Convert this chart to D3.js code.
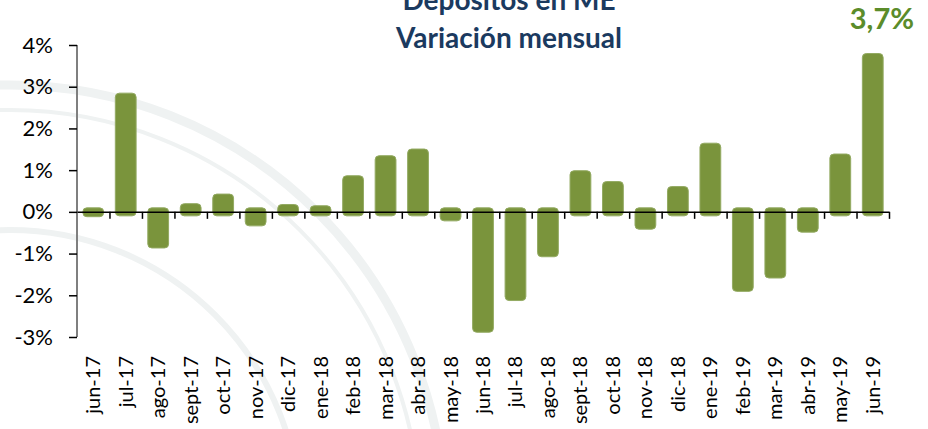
<!DOCTYPE html>
<html lang="es">
<head>
<meta charset="UTF-8">
<title>Depósitos en ME</title>
<style>
  body { margin: 0; background: #fff; }
  svg { display: block; font-family: Lato, "Open Sans", sans-serif; }
</style>
</head>
<body>
<div class="graph"></div>
<script src="https://d3js.org/d3.v7.min.js"></script>
<script>
    var w = 928, h = 429;

    var months = ["jun-17", "jul-17", "ago-17", "sept-17", "oct-17", "nov-17", "dic-17",
                  "ene-18", "feb-18", "mar-18", "abr-18", "may-18", "jun-18", "jul-18",
                  "ago-18", "sept-18", "oct-18", "nov-18", "dic-18", "ene-19", "feb-19",
                  "mar-19", "abr-19", "may-19", "jun-19"];
    var variacion = [-0.02, 2.75, -0.77, 0.10, 0.33, -0.24, 0.08,
                     0.05, 0.77, 1.25, 1.41, -0.12, -2.79, -2.03,
                     -0.98, 0.89, 0.63, -0.32, 0.51, 1.55, -1.81,
                     -1.49, -0.39, 1.29, 3.70];
    var yTicks = [4, 3, 2, 1, 0, -1, -2, -3];
    var lastLabel = "3,7%";

    var mLeft = 77, mRight = 889, mTop = 45, mBottom = 337;
    var pad = 4; // the rounded bars run a little past the zero line

    var svg = d3.select(".graph")
        .append("svg")
        .attr("width", w)
        .attr("height", h);

    // faint watermark seal in the background
    var wm = svg.append("g").attr("fill", "none").attr("stroke", "#eff2f2");
    wm.append("circle").attr("cx", 10).attr("cy", 520).attr("r", 435).attr("stroke-width", 9);
    wm.append("circle").attr("cx", 10).attr("cy", 520).attr("r", 410).attr("stroke-width", 4);
    wm.append("circle").attr("cx", 10).attr("cy", 520).attr("r", 290).attr("stroke-width", 6);

    var x = d3.scaleBand()
        .domain(months)
        .range([mLeft, mRight])
        .paddingInner(0.36)
        .paddingOuter(0.18);

    var y = d3.scaleLinear()
        .domain([-3, 4])
        .range([mBottom, mTop]);

    // bars
    svg.selectAll("rect.bar")
        .data(variacion)
        .enter()
        .append("rect")
        .attr("class", "bar")
        .attr("x", function(d, i) { return x(months[i]); })
        .attr("width", x.bandwidth())
        .attr("y", function(d) { return y(Math.max(d, 0)) - pad; })
        .attr("height", function(d) { return Math.abs(y(d) - y(0)) + 2 * pad; })
        .attr("rx", 4)
        .attr("fill", "#7a943c")
        .attr("stroke", "#93aa62")
        .attr("stroke-width", 1);

    // y axis
    var yAxis = svg.append("g")
        .attr("transform", "translate(" + mLeft + ",0)")
        .call(d3.axisLeft(y).tickValues(yTicks).tickSize(8).tickPadding(16)
              .tickFormat(function(d) { return d + "%"; }));
    yAxis.select(".domain").attr("stroke", "#7f7f7f").attr("stroke-width", 2)
        .attr("d", "M0," + mTop + "V" + mBottom);
    yAxis.selectAll(".tick line").attr("stroke", "#000").attr("stroke-width", 1.5);
    yAxis.selectAll("text")
        .attr("font-size", 22)
        .attr("fill", "#000")
        .attr("font-family", "Lato, sans-serif");

    // zero line with ticks between months
    var bounds = d3.scaleLinear().domain([0, months.length]).range([mLeft, mRight]);
    var xAxis = svg.append("g")
        .attr("transform", "translate(0," + y(0) + ")")
        .call(d3.axisBottom(bounds).tickValues(d3.range(1, months.length + 1))
              .tickSize(7).tickSizeOuter(0).tickFormat(""));
    xAxis.select(".domain").attr("stroke", "#000").attr("stroke-width", 1.5);
    xAxis.selectAll(".tick line").attr("stroke", "#000").attr("stroke-width", 1.5);

    // month labels
    svg.selectAll("text.month")
        .data(months)
        .enter()
        .append("text")
        .attr("class", "month")
        .attr("transform", function(d) {
            return "translate(" + (x(d) + x.bandwidth() / 2) + ",356) rotate(-90)";
        })
        .attr("dy", "0.35em")
        .attr("text-anchor", "end")
        .attr("font-size", 20)
        .attr("fill", "#000")
        .text(function(d) { return d; });

    // title (the first line sits partly above the frame, as in the source slide)
    var title = svg.append("text")
        .attr("text-anchor", "middle")
        .attr("font-size", 28)
        .attr("font-weight", "bold")
        .attr("fill", "#1b3a5f");
    title.append("tspan").attr("x", 509).attr("y", 10).text("Depósitos en ME");
    title.append("tspan").attr("x", 509).attr("y", 48).text("Variación mensual");

    // last value callout
    svg.append("text")
        .attr("x", 914)
        .attr("y", 29)
        .attr("text-anchor", "end")
        .attr("font-size", 29)
        .attr("font-weight", "bold")
        .attr("fill", "#5b8c2a")
        .text(lastLabel);
</script>
</body>
</html>
